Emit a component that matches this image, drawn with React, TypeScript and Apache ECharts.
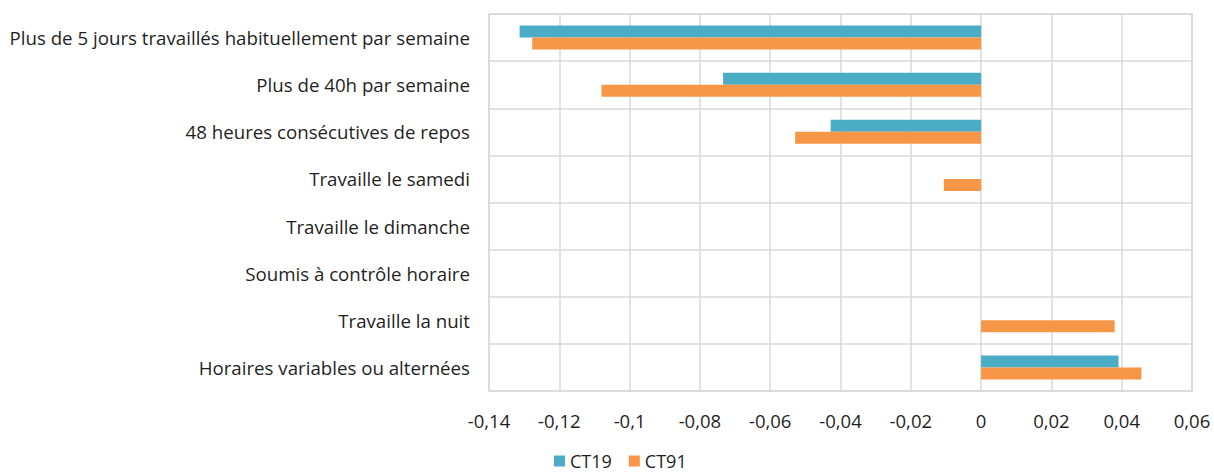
import React, { useEffect, useRef } from "react";
import * as echarts from "echarts";

const categories = [
  "Plus de 5 jours travaillés habituellement par semaine",
  "Plus de 40h par semaine",
  "48 heures consécutives de repos",
  "Travaille le samedi",
  "Travaille le dimanche",
  "Soumis à contrôle horaire",
  "Travaille la nuit",
  "Horaires variables ou alternées",
];
const ct19 = [-0.1313, -0.0734, -0.0428, 0, 0, 0, 0, 0.0391];
const ct91 = [-0.1277, -0.108, -0.0529, -0.0106, 0, 0, 0.038, 0.0456];
const seriesNames = ["CT19", "CT91"];
const colors = ["#4BACC6", "#F79646"];

const FONT = "Open Sans";
const TEXT = "#1f1f1f";
const GRID = "#D9D9D9";

export default function App() {
  const ref = useRef<HTMLDivElement>(null);
  useEffect(() => {
    const chart = echarts.init(ref.current!, null, { renderer: "svg" });
    chart.setOption({
      animation: false,
      textStyle: { fontFamily: FONT },
      grid: {
        left: 489,
        right: 22,
        top: 14,
        bottom: 84,
        show: true,
        borderColor: GRID,
        borderWidth: 1.5,
      },
      legend: {
        data: seriesNames,
        left: 554,
        top: 452,
        padding: 0,
        icon: "rect",
        itemWidth: 11,
        itemHeight: 11,
        itemGap: 17,
        textStyle: { fontFamily: FONT, fontSize: 18, color: TEXT },
      },
      xAxis: {
        type: "value",
        min: -0.14,
        max: 0.06,
        interval: 0.02,
        axisLine: { show: false },
        axisTick: { show: false },
        splitLine: { show: true, lineStyle: { color: GRID, width: 1.5 } },
        axisLabel: {
          fontFamily: FONT,
          fontSize: 18.5,
          color: TEXT,
          margin: 20,
          formatter: (v: number) => String(parseFloat(v.toFixed(2))).replace(".", ","),
        },
      },
      yAxis: {
        type: "category",
        inverse: true,
        data: categories,
        axisLine: { show: false },
        axisTick: { show: false },
        splitLine: { show: true, lineStyle: { color: GRID, width: 1.5 } },
        axisLabel: { fontFamily: FONT, fontSize: 18.7, color: TEXT, margin: 19 },
      },
      series: [
        {
          name: seriesNames[0],
          type: "bar",
          data: ct19,
          barWidth: 12,
          barGap: "0%",
          itemStyle: { color: colors[0] },
        },
        {
          name: seriesNames[1],
          type: "bar",
          data: ct91,
          barWidth: 12,
          barGap: "0%",
          itemStyle: { color: colors[1] },
        },
      ],
    });
    return () => chart.dispose();
  }, []);
  return (
    <div
      ref={ref}
      style={{ position: "fixed", left: 0, top: 0, width: 1214, height: 475, background: "#fff" }}
    />
  );
}
